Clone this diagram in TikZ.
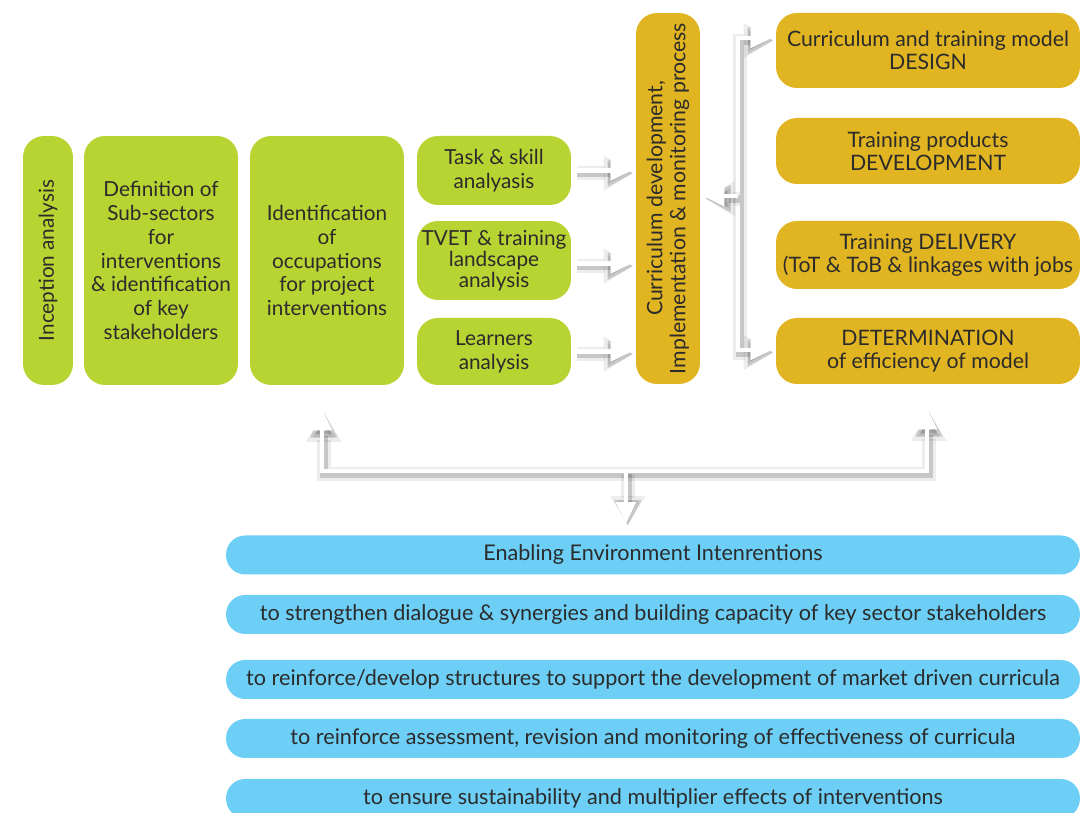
\documentclass[tikz,border=0pt]{standalone}
\usepackage{fontspec}
\setmainfont{Lato}
\usetikzlibrary{arrows.meta, positioning, calc}
\definecolor{PhaseGreen}{HTML}{B8D433}
\definecolor{PhaseGold}{HTML}{E1B522}
\definecolor{EnvBlue}{HTML}{6DCFF6}
\definecolor{TextDark}{HTML}{2B2B2B}
\tikzset{
    % Box styles - rounded corners
    greenbox/.style={
        rectangle,
        rounded corners=0.42cm,
        fill=PhaseGreen,
        text=TextDark,
        align=center,
        inner sep=2pt,
        font=\fontsize{11.8}{13.6}\selectfont
    },
    goldbox/.style={
        rectangle,
        rounded corners=0.42cm,
        fill=PhaseGold,
        text=TextDark,
        align=center,
        inner sep=2pt,
        font=\fontsize{12.1}{13.2}\selectfont
    },
    bluebar/.style={
        rectangle,
        rounded corners=0.38cm,
        fill=EnvBlue,
        text=TextDark,
        minimum width=17.08cm,
        minimum height=0.78cm,
        inner sep=0pt,
        font=\fontsize{12.3}{13.6}\selectfont
    },
    % Arrow styles - white with a soft grey shadow
    whiteshaft/.style={
        line width=2.6pt,
        draw=white
    },
    softshadow/.style={
        draw=black,
        opacity=#1,
        transform canvas={shift={(1pt,-1.5pt)}}
    },
    whitearrow/.style={
        whiteshaft,
        -{Triangle[length=12pt, width=11pt]},
        preaction={softshadow=0.07, line width=8pt, -{Triangle[length=17pt, width=19pt]}},
        preaction={softshadow=0.16, line width=4.6pt, -{Triangle[length=14.5pt, width=14.5pt]}}
    },
    whitedouble/.style={
        whiteshaft,
        {Triangle[length=12pt, width=11pt]}-{Triangle[length=12pt, width=11pt]},
        preaction={softshadow=0.07, line width=8pt,
            {Triangle[length=17pt, width=19pt]}-{Triangle[length=17pt, width=19pt]}},
        preaction={softshadow=0.16, line width=4.6pt,
            {Triangle[length=14.5pt, width=14.5pt]}-{Triangle[length=14.5pt, width=14.5pt]}}
    }
}

\begin{document}
\begin{tikzpicture}[x=0.02cm, y=-0.02cm]
    \useasboundingbox (0,0) rectangle (1080,813);
    \clip (0,0) rectangle (1080,813);

    % Preparation phase
    \node[greenbox, rotate=90, minimum width=4.98cm, minimum height=1cm] (incept) at (48,260.5) {Inception analysis};
    \node[greenbox, minimum width=3.08cm, minimum height=4.98cm] (subsect) at (161,260.5) {Definition of\\Sub-sectors\\for\\interventions\\\& identification\\of key\\stakeholders};
    \node[greenbox, minimum width=3.08cm, minimum height=4.98cm] (occup) at (327,260.5) {Identification\\of\\occupations\\for project\\interventions};

    % Analyses
    \node[greenbox, minimum width=3.08cm, minimum height=1.38cm] (task) at (494,170.5) {Task \& skill\\analyasis};
    \node[greenbox, minimum width=3.08cm, minimum height=1.58cm, font=\fontsize{11.8}{12}\selectfont] (tvet) at (494,260.5) {TVET \& training\\landscape\\analysis};
    \node[greenbox, minimum width=3.08cm, minimum height=1.34cm] (learn) at (494,351.5) {Learners\\analysis};

    % Process
    \node[goldbox, rotate=90, minimum width=7.42cm, minimum height=1.28cm] (curric) at (668,198.5) {Curriculum development,\\Implementation \& monitoring process};

    % Model stages
    \node[goldbox, minimum width=6.08cm, minimum height=1.5cm] (design) at (928,50.5) {Curriculum and training model\\DESIGN};
    \node[goldbox, minimum width=6.08cm, minimum height=1.32cm] (develop) at (928,151) {Training products\\DEVELOPMENT};
    \node[goldbox, minimum width=6.08cm, minimum height=1.36cm] (deliver) at (928,255) {Training DELIVERY\\(ToT \& ToB \& linkages with jobs};
    \node[goldbox, minimum width=6.08cm, minimum height=1.32cm] (determ) at (928,351) {DETERMINATION\\of efficiency of model};

    % Enabling environment
    \node[bluebar] (env) at (653,555) {Enabling Environment Intenrentions};
    \node[bluebar] (dialog) at (653,614.5) {to strengthen dialogue \& synergies and building capacity of key sector stakeholders};
    \node[bluebar] (struct) at (653,679.5) {to reinforce/develop structures to support the development of market driven curricula};
    \node[bluebar] (assess) at (653,738.5) {to reinforce assessment, revision and monitoring of effectiveness of curricula};
    \node[bluebar] (sustain) at (653,798.5) {to ensure sustainability and multiplier effects of interventions};

    % Analyses into process
    \draw[whitearrow] ($(task.east)+(4,0)$) -- ($(task.east -| curric.north)+(-4,0)$);
    \draw[whitearrow] ($(tvet.east)+(4,3)$) -- ($(tvet.east -| curric.north)+(-4,3)$);
    \draw[whitearrow] ($(learn.east)+(4,0)$) -- ($(learn.east -| curric.north)+(-4,0)$);

    % Process to model stages
    \coordinate (jtop) at (738,38);
    \coordinate (jbot) at (738,350);
    \coordinate (jmid) at (738,196);
    \draw[whitedouble] ($(jtop -| design.west)+(-4,0)$) -- (jtop) -- (jbot) -- ($(jbot -| determ.west)+(-4,0)$);
    \draw[whitearrow] (jmid) -- ($(jmid -| curric.south)+(3,0)$);

    % Enabling environment feedback
    \coordinate (fleft) at (322,471);
    \coordinate (fright) at (927,471);
    \coordinate (fmid) at (626,471);
    \draw[whitedouble] ($(fleft |- occup.south)+(0,24)$) -- (fleft) -- (fright) -- ($(fright |- determ.south)+(0,24)$);
    \draw[whitearrow] (fmid) -- ($(fmid |- env.north)+(0,-12)$);
\end{tikzpicture}
\end{document}
